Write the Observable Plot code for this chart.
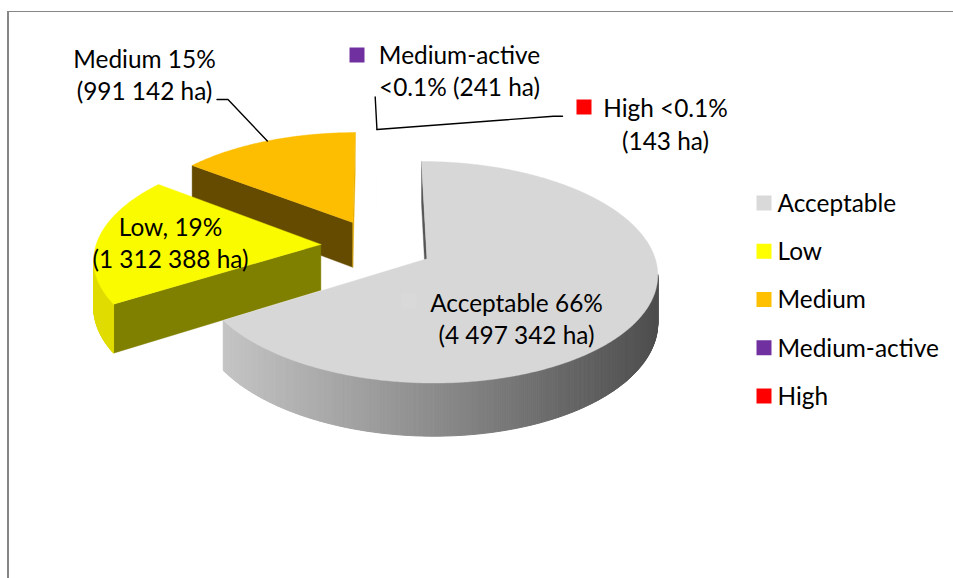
<!DOCTYPE html>
<html>
<head>
<meta charset="utf-8">
<script src="https://cdn.jsdelivr.net/npm/d3@7"></script>
<script src="https://cdn.jsdelivr.net/npm/@observablehq/plot@0.6"></script>
<style>
html,body{margin:0;padding:0;background:#fff;overflow:hidden}
#frame{position:absolute;left:7px;top:11px;right:-10px;bottom:-10px;border-top:1.5px solid #868686;border-left:2px solid #868686}
#chart{position:absolute;left:0;top:0}
</style>
</head>
<body>
<div id="frame"></div>
<div id="chart"></div>
<script>
// ---- data ----
const categories = ["Acceptable", "Low", "Medium", "Medium-active", "High"];
const hectares = [4497342, 1312388, 991142, 241, 143];
const legendColors = ["#d9d9d9", "#ffff00", "#ffc000", "#7030a0", "#ff0000"];
const topColors = ["#d7d7d7", "#fbfb00", "#fdbd00", "#7030a0", "#ff0000"];
const radialColors = ["#555555", "#7f7f00", "#654b00", "#7030a0", "#ff0000"];
const arcColors = [null, "#e0dc00", "#b88a00", "#7030a0", "#ff0000"];
const calloutLines = [
  ["Acceptable 66%", "(4 497 342 ha)"],
  ["Low, 19%", "(1 312 388 ha)"],
  ["Medium 15%", "(991 142 ha)"],
  ["Medium-active", "<0.1% (241 ha)"],
  ["High <0.1%", "(143 ha)"]
];

// ---- 3D pie geometry (unit disc, seen in perspective) ----
const view = {cx: 376.5, cy: 245.2, rx: 225, ry: 106, persp: 0.12, depth: 46, explode: 0.25};
const rad = (d) => (d * Math.PI) / 180;
function project(X, T, z = 0) {
  const s = 1 / (1 - view.persp * T);
  return [view.cx + view.rx * X * s, view.cy + view.ry * T * s + view.depth * z * s];
}
const total = d3.sum(hectares);
let acc = 0;
const slices = categories.map((name, i) => {
  const a0 = acc;
  acc += (hectares[i] / total) * 360;
  const a1 = acc;
  const mid = (a0 + a1) / 2;
  const ox = view.explode * Math.sin(rad(mid));
  const oy = -view.explode * Math.cos(rad(mid));
  return {i, name, a0, a1, mid, ox, oy};
});
function rimAt(sl, a) {
  return [sl.ox + Math.sin(rad(a)), sl.oy - Math.cos(rad(a))];
}
function outline(sl) {
  const n = Math.max(1, Math.ceil((sl.a1 - sl.a0) / 0.5));
  const pts = [[sl.ox, sl.oy]];
  for (let k = 0; k <= n; k++) pts.push(rimAt(sl, sl.a0 + ((sl.a1 - sl.a0) * k) / n));
  return pts;
}
const wallShade = d3.scaleLinear().domain([224, 430, 655]).range(["#c4c4c4", "#8d8d8d", "#4e4e4e"]);
function shoelace(q) {
  let area = 0;
  q.forEach((p, k) => {
    const r = q[(k + 1) % q.length];
    area += p[0] * r[1] - r[0] * p[1];
  });
  return area;
}
const wallRows = [], tinyRows = [];
let uid = 0;
slices.slice().sort((a, b) => a.oy - b.oy).forEach((sl) => {
  if (sl.a1 - sl.a0 < 1) {
    const id = uid++;
    outline(sl).forEach(([X, T]) => {
      const [x, y] = project(X, T);
      tinyRows.push({id, x, y, color: topColors[sl.i]});
    });
    return;
  }
  const pts = outline(sl);
  const closed = pts.concat([pts[0]]);
  for (let k = 0; k < closed.length - 1; k++) {
    const [u, v] = [closed[k], closed[k + 1]];
    const q = [project(u[0], u[1]), project(v[0], v[1]), project(v[0], v[1], 1), project(u[0], u[1], 1)];
    if (shoelace(q) >= 0) continue;
    const radial = k === 0 || k === closed.length - 2;
    let color = radial ? radialColors[sl.i] : arcColors[sl.i];
    if (sl.i === 2 && k === closed.length - 2) color = "#e8ad00";
    if (color == null) color = wallShade((q[0][0] + q[1][0]) / 2);
    const id = uid++;
    q.concat([q[0]]).forEach(([x, y]) => wallRows.push({id, x, y, color, edge: radial ? 0.4 : 1}));
  }
  const id = uid++;
  closed.forEach(([X, T]) => {
    const [x, y] = project(X, T);
    wallRows.push({id, x, y, color: topColors[sl.i], edge: 0.4});
  });
});

// ---- annotation layout ----
const rimMid = (i) => {
  const [X, T] = rimAt(slices[i], slices[i].mid);
  return project(X, T);
};
const textSpec = [
  {i: 0, x: 516, y: [303.5, 335.5]},
  {i: 1, x: 170, y: [228, 260]},
  {i: 2, x: 144, y: [59.5, 91.5]},
  {i: 3, x: 459, y: [56, 88]},
  {i: 4, x: 665, y: [108.5, 141.5]}
];
const labelRows = textSpec.flatMap((t) =>
  calloutLines[t.i].map((text, k) => ({x: t.x, y: t.y[k], text}))
);
const [mx, my] = rimMid(2);
const [ax] = rimMid(3);
const leaders = [
  {id: "medium", x: 216.5, y: 99},
  {id: "medium", x: 227.5, y: 99},
  {id: "medium", x: mx, y: my},
  {id: "active", x: 374.7, y: 96.5},
  {id: "active", x: ax, y: 129},
  {id: "high", x: ax, y: 129},
  {id: "high", x: 553, y: 115.7},
  {id: "high", x: 562, y: 115.7}
];
const legendRows = categories.map((name, i) => ({name, color: legendColors[i], y: 202.5 + i * 48.25}));
const keyRows = [
  {x: 408.5, y: 300.5, color: legendColors[0]},
  {x: 356.5, y: 54.5, color: legendColors[3]},
  {x: 583.5, y: 106.5, color: legendColors[4]}
];
const font = "Lato, Carlito, sans-serif";
const keyR = 15 / Math.sqrt(Math.PI);
const textSize = 24.4;

const chart = Plot.plot({
  width: 953, height: 578, margin: 0,
  x: {domain: [0, 953], range: [0, 953], axis: null},
  y: {domain: [0, 578], range: [0, 578], axis: null},
  color: {type: "identity"},
  style: {background: "transparent", fontFamily: font},
  marks: [
    Plot.line(tinyRows, {x: "x", y: "y", z: "id", fill: "color", fillOpacity: 0.15, stroke: "none", curve: "linear"}),
    Plot.line(wallRows, {x: "x", y: "y", z: "id", fill: "color", stroke: "color", strokeWidth: "edge", curve: "linear"}),
    Plot.line(leaders, {x: "x", y: "y", z: "id", stroke: "#000", strokeWidth: 1.4, curve: "linear"}),
    Plot.dot(keyRows, {x: "x", y: "y", fill: "color", symbol: "square", r: keyR}),
    Plot.dot(legendRows, {x: () => 763.5, y: "y", fill: "color", symbol: "square", r: keyR}),
    Plot.text(legendRows, {x: () => 777, y: "y", dy: 1, text: "name", textAnchor: "start", fontSize: textSize, fill: "#000", fontFamily: font}),
    Plot.text(labelRows, {x: "x", y: "y", text: "text", textAnchor: "middle", fontSize: textSize, fill: "#000", fontFamily: font})
  ]
});
document.getElementById("chart").appendChild(chart);
</script>
</body>
</html>
